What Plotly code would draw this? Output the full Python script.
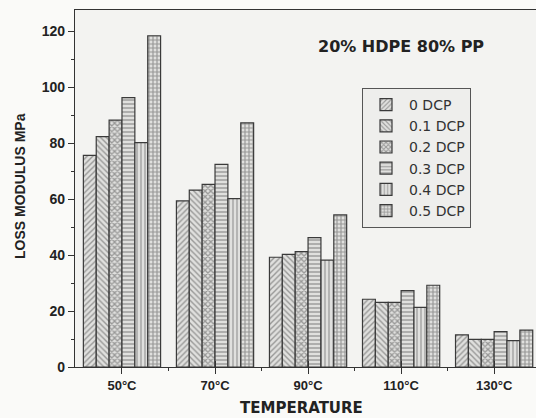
import plotly.graph_objects as go

temperatures = ["50°C", "70°C", "90°C", "110°C", "130°C"]
series_names = ["0 DCP", "0.1 DCP", "0.2 DCP", "0.3 DCP", "0.4 DCP", "0.5 DCP"]
dcp_0 = [75.6, 59.3, 39.2, 24.2, 11.5]
dcp_01 = [82.3, 63.2, 40.2, 23.1, 9.9]
dcp_02 = [88.2, 65.2, 41.2, 23.1, 9.9]
dcp_03 = [96.2, 72.4, 46.2, 27.3, 12.6]
dcp_04 = [80.1, 60.1, 38.2, 21.3, 9.4]
dcp_05 = [118.3, 87.2, 54.3, 29.2, 13.2]
y_ticks = [0, 20, 40, 60, 80, 100, 120]

series_values = [dcp_0, dcp_01, dcp_02, dcp_03, dcp_04, dcp_05]
patterns = ["/", "\\", "x", "-", "|", "+"]
pattern_sizes = [4, 4, 4, 4, 4, 4]
pattern_solidity = [0.35, 0.35, 0.55, 0.35, 0.3, 0.5]

FONT = "Arial, Liberation Sans, sans-serif"
WIDE = "DejaVu Sans, Arial, sans-serif"
xpos = list(range(len(temperatures)))

# plot area in pixels
L, R, T, B, W, H = 75, 0, 10, 51, 536, 418
PW, PH = W - L - R, H - T - B

def px_x(px):
    return (px - L) / PW

def px_y(py):
    return (H - B - py) / PH

fig = go.Figure()
for name, vals, pat, sz, sol in zip(series_names, series_values, patterns, pattern_sizes, pattern_solidity):
    fig.add_trace(go.Bar(
        x=xpos, y=vals, name=name,
        marker=dict(
            color="#e0e0de",
            line=dict(color="#3a3a3a", width=1.2),
            pattern=dict(shape=pat, fgcolor="#505050", bgcolor="#e0e0de", size=sz, solidity=sol),
        ),
    ))
fig.add_trace(go.Scatter(x=[None], y=[None], xaxis="x2", showlegend=False, hoverinfo="skip"))

fig.update_layout(
    width=W, height=H,
    margin=dict(l=L, r=R, t=T, b=B, autoexpand=False),
    paper_bgcolor="#fafaf8",
    plot_bgcolor="#f3f3f1",
    barmode="group", bargap=0.17, bargroupgap=0,
    font=dict(family=FONT, color="#222"),
    showlegend=True,
    legend=dict(
        x=px_x(362), y=px_y(88), xanchor="left", yanchor="top",
        bgcolor="#eeeeec", bordercolor="#555", borderwidth=1,
        font=dict(family=WIDE, size=14, color="#333"),
        tracegroupgap=0, itemwidth=36,
    ),
    xaxis=dict(
        automargin=False,
        range=[-0.505, 4.45],
        tickmode="array", tickvals=xpos, ticktext=temperatures,
        ticks="outside", ticklen=6, tickcolor="#333", tickwidth=1,
        showline=True, linecolor="#333", linewidth=1.2, mirror=True,
        showgrid=False, zeroline=False,
        tickfont=dict(family=FONT, size=13, color="#222", weight="bold"),
        minor=dict(tickvals=[i + 0.5 for i in xpos], ticks="outside", ticklen=3, tickcolor="#333"),
    ),
    xaxis2=dict(
        automargin=False,
        overlaying="x", matches="x", anchor="y",
        tickmode="array", tickvals=xpos, ticktext=["" for _ in xpos],
        ticks="inside", ticklen=6, tickcolor="#333", side="bottom",
        showgrid=False, zeroline=False, showline=False, showticklabels=False,
    ),
    yaxis=dict(
        automargin=False,
        range=[0, 127.5],
        tickmode="array", tickvals=y_ticks,
        ticks="outside", ticklen=6, tickcolor="#333",
        showline=True, linecolor="#333", linewidth=1.2, mirror=False,
        showgrid=False, zeroline=False,
        tickfont=dict(family=FONT, size=14, color="#222", weight="bold"),
        minor=dict(dtick=10, tick0=0, ticks="outside", ticklen=3, tickcolor="#333"),
    ),
)

fig.add_annotation(
    x=px_x(401), y=px_y(47), xref="paper", yref="paper", xanchor="center", yanchor="middle",
    text="<b>20% HDPE 80% PP</b>",
    showarrow=False, font=dict(family=WIDE, size=16, color="#222"),
)
fig.add_annotation(
    x=px_x(301), y=px_y(408), xref="paper", yref="paper", xanchor="center", yanchor="middle",
    text="<b>TEMPERATURE</b>",
    showarrow=False, font=dict(family=WIDE, size=15, color="#222"),
)
fig.add_annotation(
    x=px_x(20), y=px_y(186), xref="paper", yref="paper", xanchor="center", yanchor="middle",
    text="<b>LOSS MODULUS MPa</b>",
    showarrow=False, textangle=-90, font=dict(family=FONT, size=14, color="#222"),
)

fig.write_html(
    "out.html",
    config={"displayModeBar": False},
    post_script="document.body.style.margin='0';document.documentElement.style.overflow='hidden';document.body.style.overflow='hidden';",
)
